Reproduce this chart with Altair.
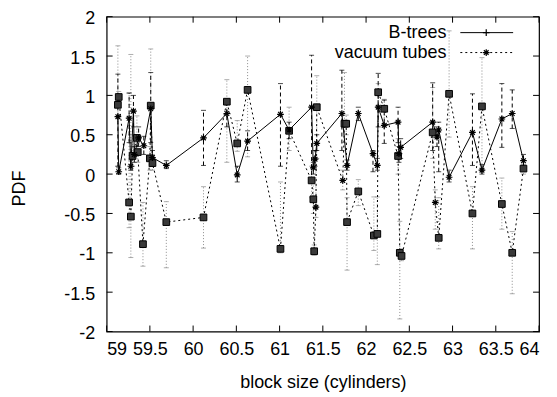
import altair as alt
import pandas as pd

# ---- data ----
bx = [59.13, 59.14, 59.26, 59.28, 59.31, 59.32, 59.37, 59.43, 59.51, 59.53, 59.69, 60.12, 60.39, 60.51,
      60.63, 61.01, 61.11, 61.37, 61.39, 61.41, 61.43, 61.72, 61.78, 61.91, 62.08, 62.13, 62.14, 62.21,
      62.37, 62.38, 62.40, 62.77, 62.82, 62.84, 62.96, 63.23, 63.34, 63.57, 63.69, 63.82]
by = [0.73, 0.03, 0.71, 0.10, 0.80, 0.25, 0.46, 0.36, 0.83, 0.21, 0.11, 0.46, 0.77, -0.01,
      0.42, 0.76, 0.56, 0.85, 0.08, 0.19, 0.39, 0.77, 0.11, 0.77, 0.26, 0.11, 0.85, 0.62,
      0.66, 0.26, 0.34, 0.66, 0.47, 0.56, -0.04, 0.53, 0.05, 0.70, 0.77, 0.17]
blo = [0.10, 0.00, 0.40, 0.05, 0.60, 0.15, 0.35, 0.25, 0.40, 0.10, 0.07, 0.11, 0.60, -0.10,
       0.30, 0.10, 0.45, -0.10, 0.00, 0.10, 0.30, 0.30, 0.05, 0.68, 0.03, 0.05, 0.60, 0.39,
       0.40, 0.15, 0.20, 0.30, 0.35, 0.03, -0.10, 0.11, 0.00, 0.34, 0.58, 0.10]
bhi = [1.27, 0.08, 1.03, 0.18, 1.00, 0.35, 0.60, 0.48, 1.29, 0.30, 0.17, 0.81, 0.95, 0.10,
       0.55, 1.15, 0.66, 1.51, 0.15, 0.30, 0.50, 1.32, 0.18, 0.85, 0.30, 0.20, 1.28, 0.94,
       0.85, 0.35, 0.45, 1.16, 0.60, 0.66, 0.05, 1.02, 0.12, 1.15, 1.07, 0.25]

vx = [59.13, 59.14, 59.26, 59.28, 59.30, 59.35, 59.36, 59.42, 59.50, 59.51, 59.53, 59.69, 60.12, 60.39,
      60.51, 60.63, 61.01, 61.11, 61.37, 61.39, 61.40, 61.42, 61.43, 61.73, 61.75, 61.77, 61.78, 61.91,
      62.09, 62.13, 62.14, 62.21, 62.37, 62.39, 62.41, 62.77, 62.80, 62.84, 62.96, 63.23, 63.34, 63.57,
      63.69, 63.82]
vy = [0.88, 0.98, -0.36, -0.54, 0.23, 0.46, 0.28, -0.89, 0.20, 0.87, 0.14, -0.61, -0.55, 0.92,
      0.39, 1.07, -0.95, 0.55, -0.08, -0.32, -0.98, -0.42, 0.85, -0.08, 0.64, 0.64, -0.61, -0.22,
      -0.78, -0.76, 1.04, 0.83, 0.23, -1.00, -1.04, 0.53, -0.36, -0.81, 1.02, -0.50, 0.86, -0.38,
      -1.00, 0.07]
vlo = [0.10, 0.90, -0.68, -1.06, 0.10, 0.30, 0.15, -1.17, 0.05, 0.10, 0.05, -1.19, -0.94, 0.15,
       0.29, 0.22, -1.00, 0.30, -0.30, -0.50, -1.03, -0.55, 0.20, -0.20, 0.40, 0.50, -1.22, -0.40,
       -0.97, -1.15, 0.85, 0.60, 0.00, -1.84, -1.10, 0.20, -0.70, -0.95, 0.47, -0.95, 0.05, -0.70,
       -1.52, 0.00]
vhi = [1.63, 1.05, 1.03, 1.52, 0.50, 0.74, 0.40, -0.36, 0.35, 1.59, 0.25, -0.35, -0.16, 1.20,
       0.68, 1.50, -0.10, 0.85, 0.10, -0.10, -0.90, 0.30, 1.25, 0.05, 1.29, 0.75, -0.30, -0.07,
       -0.29, -0.29, 1.15, 0.95, 0.45, -0.60, -0.95, 1.10, -0.20, -0.30, 1.82, -0.16, 1.48, -0.05,
       -0.73, 0.12]
vshape = ["s"] * len(vx)
for i in (21, 23, 36):
    vshape[i] = "*"

xticks = [59, 59.5, 60, 60.5, 61, 61.5, 62, 62.5, 63, 63.5, 64]
yticks = [-2, -1.5, -1, -0.5, 0, 0.5, 1, 1.5, 2]
legend_labels = ["B-trees", "vacuum tubes"]

# ---- tables ----
bdf = pd.DataFrame({"x": bx, "y": by, "lo": blo, "hi": bhi})
vdf = pd.DataFrame({"x": vx, "y": vy, "lo": vlo, "hi": vhi, "m": vshape})
xt = pd.DataFrame({"x": xticks})
yt = pd.DataFrame({"y": yticks})

W, H = 434, 316
FONT = "Liberation Sans"
FS = 18
ASTER = "M-1,0H1M0,-1V1M-0.7,-0.7L0.7,0.7M-0.7,0.7L0.7,-0.7"
PLUS = "M-1,0H1M0,-1V1"

XS = alt.Scale(domain=[59, 64], nice=False, zero=False)
YS = alt.Scale(domain=[-2, 2], nice=False, zero=False)

# identical axis definitions in every layer so they merge cleanly
X_AXIS = alt.Axis(values=xticks, title="block size (cylinders)",
                  labelExpr="'' + datum.value", labelOverlap=False, labelPadding=9,
                  titleY=51, titleBaseline="middle")
Y_AXIS = alt.Axis(values=yticks, title="PDF",
                  labelExpr="'' + datum.value", labelOverlap=False, labelPadding=12,
                  labelOffset=2,
                  titleX=-87, titleY=172, titleBaseline="middle", titleAlign="center")
X = alt.X("x:Q", scale=XS, axis=X_AXIS)
Y = alt.Y("y:Q", scale=YS, axis=Y_AXIS)
Ylo = alt.Y("lo:Q", scale=YS, axis=Y_AXIS)
Yhi = alt.Y("hi:Q", scale=YS, axis=Y_AXIS)

# B-trees
b_err = alt.Chart(bdf).mark_rule(color="black", strokeDash=[4, 3], strokeWidth=1).encode(x=X, y=Ylo, y2="hi:Q")
b_cap1 = alt.Chart(bdf).mark_tick(orient="horizontal", size=5, thickness=1, color="black").encode(x=X, y=Ylo)
b_cap2 = alt.Chart(bdf).mark_tick(orient="horizontal", size=5, thickness=1, color="black").encode(x=X, y=Yhi)
b_line = alt.Chart(bdf).mark_line(color="black", strokeWidth=1).encode(x=X, y=Y)
b_pts = alt.Chart(bdf).mark_point(shape=ASTER, filled=False, size=45, color="black", strokeWidth=1.2, opacity=1).encode(x=X, y=Y)

# vacuum tubes
GREY = "#8c8c8c"
v_err = alt.Chart(vdf).mark_rule(color=GREY, strokeDash=[1, 2], strokeWidth=1).encode(x=X, y=Ylo, y2="hi:Q")
v_cap1 = alt.Chart(vdf).mark_tick(orient="horizontal", size=5, thickness=1, color=GREY).encode(x=X, y=Ylo)
v_cap2 = alt.Chart(vdf).mark_tick(orient="horizontal", size=5, thickness=1, color=GREY).encode(x=X, y=Yhi)
v_line = alt.Chart(vdf).mark_line(color="black", strokeDash=[2, 3], strokeWidth=1).encode(x=X, y=Y)
v_sq = alt.Chart(vdf).transform_filter("datum.m == 's'").mark_square(
    size=45, fill="#3a3a3a", stroke="black", strokeWidth=1, opacity=1).encode(x=X, y=Y)
v_st = alt.Chart(vdf).transform_filter("datum.m == '*'").mark_point(
    shape=ASTER, filled=False, size=45, color="black", strokeWidth=1.2, opacity=1).encode(x=X, y=Y)

# inward ticks on all four sides
tk = dict(color="black", strokeWidth=1)
xt_bot = alt.Chart(xt).mark_rule(**tk).encode(x=X, y=alt.value(H), y2=alt.value(H - 6))
xt_top = alt.Chart(xt).mark_rule(**tk).encode(x=X, y=alt.value(0), y2=alt.value(6))
yt_l = alt.Chart(yt).mark_rule(**tk).encode(y=Y, x=alt.value(0), x2=alt.value(6))
yt_r = alt.Chart(yt).mark_rule(**tk).encode(y=Y, x=alt.value(W), x2=alt.value(W - 6))

# legend
def leg(i, dash, shape, ypix):
    d = alt.Data(values=[{"t": legend_labels[i]}])
    txt = alt.Chart(d).mark_text(align="right", baseline="middle", font=FONT, fontSize=FS, color="black").encode(
        text="t:N", x=alt.value(341), y=alt.value(ypix))
    ln_kw = dict(color="black", strokeWidth=1)
    if dash:
        ln_kw["strokeDash"] = dash
    ln = alt.Chart(d).mark_rule(**ln_kw).encode(x=alt.value(355), x2=alt.value(408), y=alt.value(ypix))
    pt = alt.Chart(d).mark_point(shape=shape, filled=False, size=45, color="black", strokeWidth=1.2, opacity=1).encode(
        x=alt.value(381), y=alt.value(ypix))
    return [txt, ln, pt]

legend_layers = leg(0, None, PLUS, 16) + leg(1, [2, 3], ASTER, 36)

chart = alt.layer(
    v_err, v_cap1, v_cap2, b_err, b_cap1, b_cap2,
    v_line, b_line, v_sq, v_st, b_pts,
    xt_bot, xt_top, yt_l, yt_r,
    *legend_layers
).properties(
    width=W, height=H,
    autosize=alt.AutoSizeParams(type="none"),
    padding={"left": 99, "top": 8, "right": 10, "bottom": 64},
    background="white",
).configure_view(
    stroke="black", strokeWidth=1.2
).configure_axis(
    domain=False, ticks=False, grid=False,
    labelFont=FONT, labelFontSize=FS, labelColor="black",
    titleFont=FONT, titleFontSize=FS, titleColor="black", titleFontWeight="normal",
)

chart.save("out.html", embed_options={"renderer": "svg", "actions": False})
